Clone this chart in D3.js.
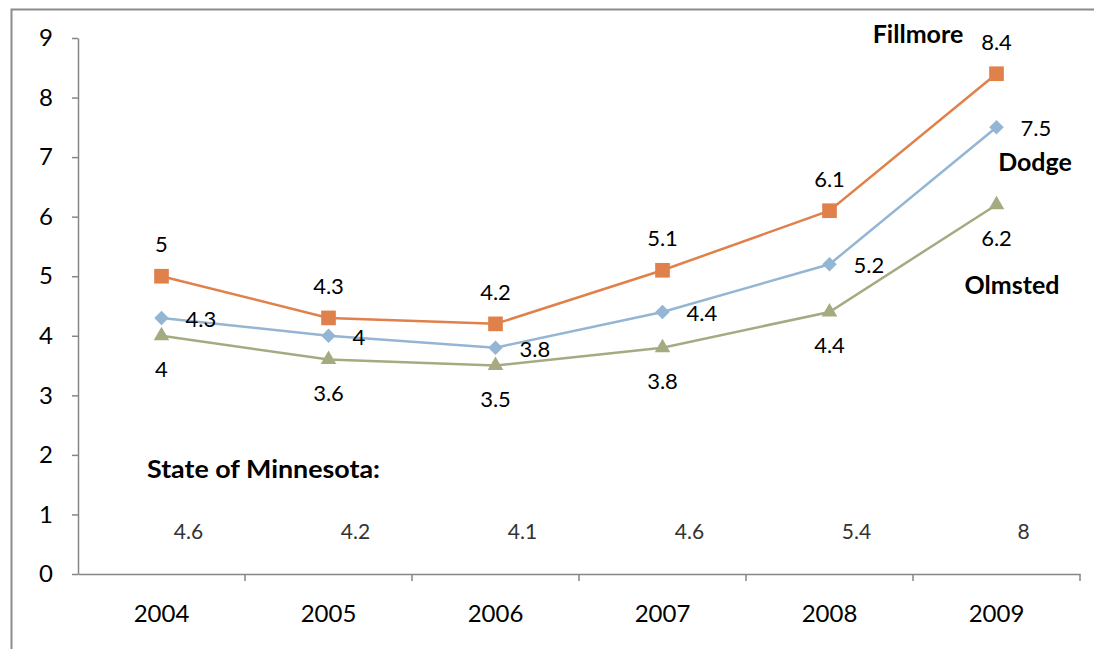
<!DOCTYPE html>
<html>
<head>
<meta charset="utf-8">
<script src="https://cdn.jsdelivr.net/npm/d3@7"></script>
<style>
  body { margin: 0; background: #fff; }
  svg { display: block; font-family: Lato, "Open Sans", sans-serif; }
  .axis path, .axis line { stroke: #868686; stroke-width: 1.5; }
  .axis text { font-size: 24px; fill: #000; font-family: Lato, sans-serif; }
</style>
</head>
<body>
<svg id="chart" width="1094" height="649"></svg>
<script>
const years = ['2004', '2005', '2006', '2007', '2008', '2009'];
const fillmore = [5, 4.3, 4.2, 5.1, 6.1, 8.4];
const dodge = [4.3, 4, 3.8, 4.4, 5.2, 7.5];
const olmsted = [4, 3.6, 3.5, 3.8, 4.4, 6.2];
const stateMN = [4.6, 4.2, 4.1, 4.6, 5.4, 8];
const yTicks = [0, 1, 2, 3, 4, 5, 6, 7, 8, 9];

// square rotated 45 degrees
const diamond = {
  draw(ctx, size) {
    const r = Math.sqrt(size / 2);
    ctx.moveTo(0, -r); ctx.lineTo(r, 0); ctx.lineTo(0, r); ctx.lineTo(-r, 0); ctx.closePath();
  }
};

const series = [
  { name: 'Fillmore', values: fillmore, color: '#E0804A', symbol: d3.symbolSquare, size: 215, label: 'above' },
  { name: 'Dodge', values: dodge, color: '#94B6D4', symbol: diamond, size: 105, label: 'right' },
  { name: 'Olmsted', values: olmsted, color: '#A5AB81', symbol: d3.symbolTriangle, size: 105, label: 'below' }
];

const svg = d3.select('#chart');
const margin = { top: 38, right: 14, bottom: 75, left: 78 };
const width = 1094, height = 649;

// outer frame
svg.append('rect')
  .attr('x', 11.5).attr('y', 9.5)
  .attr('width', 1200).attr('height', 800)
  .attr('fill', 'none').attr('stroke', '#8c8c8c').attr('stroke-width', 2);

const x = d3.scaleBand()
  .domain(years)
  .range([margin.left, width - margin.right]);

const y = d3.scaleLinear()
  .domain([0, 9])
  .range([height - margin.bottom, margin.top]);

// y axis
svg.append('g')
  .attr('class', 'axis')
  .attr('transform', `translate(${margin.left},0)`)
  .call(d3.axisLeft(y).tickValues(yTicks).tickSize(6).tickSizeOuter(0).tickPadding(19));

// x axis with ticks at band edges
const xAxis = svg.append('g')
  .attr('class', 'axis')
  .attr('transform', `translate(0,${y(0)})`)
  .call(d3.axisBottom(x).tickSize(0).tickPadding(31));
xAxis.selectAll('.edge')
  .data(years)
  .join('line')
  .attr('class', 'edge')
  .attr('x1', d => x(d) + x.bandwidth()).attr('x2', d => x(d) + x.bandwidth())
  .attr('y1', 0).attr('y2', 7);

const cx = d => x(d) + x.bandwidth() / 2;

const line = d3.line()
  .x((d, i) => cx(years[i]))
  .y(d => y(d));

series.forEach(s => {
  const g = svg.append('g');
  g.append('path')
    .datum(s.values)
    .attr('fill', 'none')
    .attr('stroke', s.color)
    .attr('stroke-width', 2.5)
    .attr('d', line);
  g.selectAll('path.pt')
    .data(s.values)
    .join('path')
    .attr('class', 'pt')
    .attr('transform', (d, i) => `translate(${cx(years[i])},${y(d)})`)
    .attr('d', d3.symbol().type(s.symbol).size(s.size))
    .attr('fill', s.color);
  g.selectAll('text')
    .data(s.values)
    .join('text')
    .attr('x', (d, i) => cx(years[i]) + (s.label === 'right' ? 24 : 0))
    .attr('y', d => y(d) + (s.label === 'above' ? -24 : s.label === 'below' ? 41 : 9))
    .attr('text-anchor', s.label === 'right' ? 'start' : 'middle')
    .attr('font-size', 22)
    .text(d => d);
});

// series names
const names = [
  { text: 'Fillmore', x: 918, y: 43 },
  { text: 'Dodge', x: 1035, y: 171 },
  { text: 'Olmsted', x: 1012, y: 294 }
];
svg.selectAll('text.name')
  .data(names)
  .join('text')
  .attr('class', 'name')
  .attr('x', d => d.x).attr('y', d => d.y)
  .attr('text-anchor', 'middle')
  .attr('font-size', 25)
  .attr('font-weight', 'bold')
  .text(d => d.text);

// state of Minnesota
svg.append('text')
  .attr('x', 147).attr('y', 478)
  .attr('font-size', 24)
  .attr('font-weight', 'bold')
  .attr('textLength', 233)
  .attr('lengthAdjust', 'spacingAndGlyphs')
  .text('State of Minnesota:');

svg.selectAll('text.state')
  .data(stateMN)
  .join('text')
  .attr('class', 'state')
  .attr('x', (d, i) => cx(years[i]) + 27)
  .attr('y', 539)
  .attr('text-anchor', 'middle')
  .attr('font-size', 21)
  .attr('fill', '#333')
  .text(d => d);
</script>
</body>
</html>
